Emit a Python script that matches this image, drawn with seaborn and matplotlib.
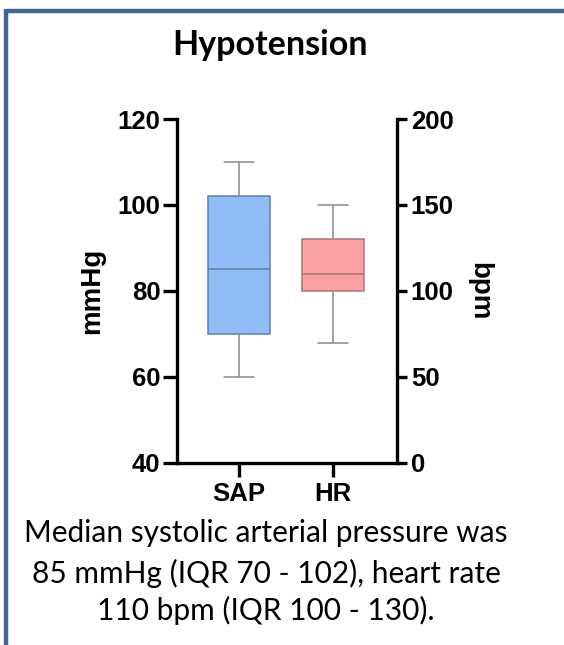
import matplotlib
matplotlib.use('Agg')
import matplotlib.pyplot as plt
import seaborn as sns
import pandas as pd
from matplotlib.lines import Line2D

# ---- data ----
categories = ['SAP', 'HR']
sap_values = [60, 70, 85, 102, 110]    # mmHg: min, Q1, median, Q3, max
hr_values = [70, 100, 110, 130, 150]   # bpm: min, Q1, median, Q3, max
left_ticks = [40, 60, 80, 100, 120]
right_ticks = [0, 50, 100, 150, 200]
title = 'Hypotension'
caption = ['Median systolic arterial pressure was',
           '85 mmHg (IQR 70 - 102), heart rate',
           '110 bpm (IQR 100 - 130).']

sns.set_theme(style='ticks')
plt.rcParams['font.family'] = ['Liberation Sans', 'DejaVu Sans']
plt.rcParams['text.color'] = 'black'
plt.rcParams['axes.labelcolor'] = 'black'
plt.rcParams['xtick.color'] = 'black'
plt.rcParams['ytick.color'] = 'black'

fig = plt.figure(figsize=(5.64, 6.45), dpi=100)
ax = fig.add_axes([0.3138, 0.2822, 0.390, 0.5333])
ax2 = ax.twinx()

sap_df = pd.DataFrame({'cat': ['SAP'] * len(sap_values), 'val': sap_values})
hr_df = pd.DataFrame({'cat': ['HR'] * len(hr_values), 'val': hr_values})

whisk = dict(color='#8a8a8a', linewidth=1.1)
sns.boxplot(data=sap_df, x='cat', y='val', order=categories, ax=ax,
            whis=(0, 100), width=0.65, color='#90bdf8', saturation=1,
            linewidth=1.1, linecolor='#5f7fa5',
            whiskerprops=whisk, capprops=whisk)
sns.boxplot(data=hr_df, x='cat', y='val', order=categories, ax=ax2,
            whis=(0, 100), width=0.65, color='#faa0a0', saturation=1,
            linewidth=1.1, linecolor='#a57a7a',
            whiskerprops=whisk, capprops=whisk)

ax.set_xlim(-0.66, 1.68)
ax.set_ylim(40, 120)
ax2.set_ylim(0, 200)
ax.set_yticks(left_ticks)
ax2.set_yticks(right_ticks)
ax.set_xticks(range(len(categories)))
ax.set_xticklabels(categories)

for a in (ax, ax2):
    a.set_xlabel('')
    a.grid(False)
    a.spines['top'].set_visible(False)
ax.spines['right'].set_visible(False)
ax2.spines['left'].set_visible(False)
ax2.spines['bottom'].set_visible(False)
for s in ('left', 'bottom'):
    ax.spines[s].set_linewidth(2.4)
    ax.spines[s].set_color('black')
ax2.spines['right'].set_linewidth(2.4)
ax2.spines['right'].set_color('black')

ax.tick_params(axis='y', length=10, width=2.4, pad=2, colors='black')
ax.tick_params(axis='x', length=10, width=2.4, pad=4, colors='black')
ax2.tick_params(axis='y', length=7, width=2.4, pad=3, colors='black')
for lab in ax.get_yticklabels() + ax.get_xticklabels() + ax2.get_yticklabels():
    lab.set_fontsize(18.5)
    lab.set_fontweight('bold')
    lab.set_color('black')

ax.set_ylabel('mmHg', fontsize=20, fontweight='bold', va='center', color='black')
ax.yaxis.set_label_coords(-0.386, 0.5)
ax2.set_ylabel('bpm', fontsize=20, fontweight='bold', rotation=270, va='center',
               color='black')
ax2.yaxis.set_label_coords(1.373, 0.5)

fig.text(0.479, 0.930, title, ha='center', va='center', fontsize=24.5,
         fontweight='bold', family=['Lato', 'DejaVu Sans'], color='black')
for y, line in zip([0.1736, 0.1116, 0.054], caption):
    fig.text(0.472, y, line, ha='center', va='center', fontsize=21.5,
             family=['Lato', 'DejaVu Sans'], color='black')

frame = '#41679a'
fig.add_artist(Line2D([0.0106, 1.0], [0.983, 0.983], transform=fig.transFigure,
                      color=frame, linewidth=3.2, solid_capstyle='butt'))
fig.add_artist(Line2D([0.0106, 0.0106], [0.0, 0.983 + 0.0025], transform=fig.transFigure,
                      color=frame, linewidth=3.2, solid_capstyle='butt'))

fig.savefig('out.png', dpi=100)
